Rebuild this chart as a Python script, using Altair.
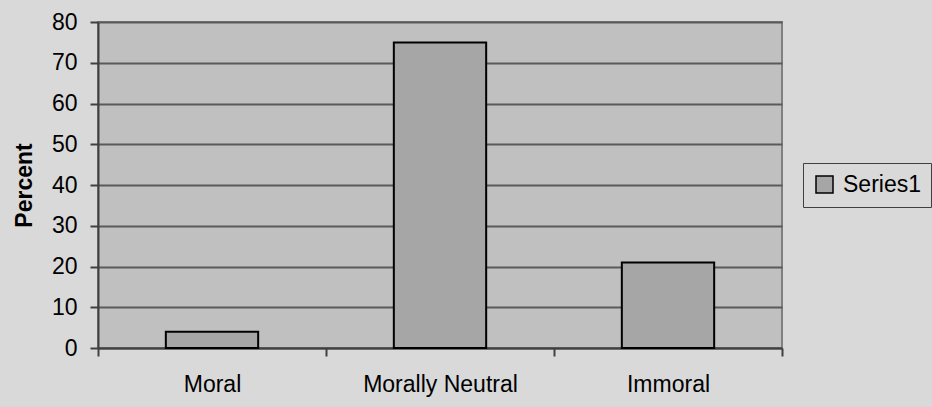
import altair as alt
import pandas as pd

# Share of responses per moral category
categories = ["Moral", "Morally Neutral", "Immoral"]
percents = [4, 75, 21]
series_names = ["Series1", "Series1", "Series1"]

y_ticks = [0, 10, 20, 30, 40, 50, 60, 70, 80]

df = pd.DataFrame({"category": categories, "percent": percents, "series": series_names})

FONT = "Liberation Sans"

bars = alt.Chart(df).mark_bar(
    stroke="black",
    strokeWidth=2,
    width=alt.RelativeBandSize(0.405),
).encode(
    x=alt.X(
        "category:N",
        sort=categories,
        title=None,
        scale=alt.Scale(paddingInner=0, paddingOuter=0),
        axis=alt.Axis(
            labelAngle=0,
            labelFontSize=23,
            labelFont=FONT,
            labelColor="black",
            labelPadding=17,
            tickBand="extent",
            tickSize=8,
            tickColor="#404040",
            tickWidth=2,
            domainColor="#404040",
            domainWidth=2,
            grid=False,
        ),
    ),
    y=alt.Y(
        "percent:Q",
        title="Percent",
        scale=alt.Scale(domain=[0, 80], nice=False),
        axis=alt.Axis(
            values=y_ticks,
            labelFontSize=23,
            labelFont=FONT,
            labelColor="black",
            labelPadding=13,
            tickSize=8,
            tickColor="#404040",
            tickWidth=2,
            domainColor="#404040",
            domainWidth=2,
            grid=True,
            gridColor="#5a5a5a",
            gridWidth=2,
            titleFont=FONT,
            titleFontSize=23,
            titleFontWeight="bold",
            titleColor="black",
            titleAngle=270,
            titleAlign="center",
            titleBaseline="alphabetic",
            titleX=-67,
            titleY=163,
        ),
    ),
    color=alt.Color(
        "series:N",
        scale=alt.Scale(range=["#A6A6A6"]),
        legend=alt.Legend(
            title=None,
            orient="none",
            legendX=705,
            legendY=141,
            symbolType="square",
            symbolSize=289,
            symbolStrokeColor="black",
            symbolStrokeWidth=1.5,
            symbolFillColor="#A6A6A6",
            symbolOpacity=1,
            labelFont=FONT,
            labelFontSize=23,
            labelColor="black",
            labelOffset=7,
            padding=10,
            strokeColor="#404040",
            fillColor="#D9D9D9",
        ),
    ),
)

chart = bars.properties(
    width=684,
    height=326,
    background="#D9D9D9",
    padding={"left": 98, "top": 22, "right": 150, "bottom": 59},
    autosize=alt.AutoSizeParams(type="none"),
).configure_view(
    fill="#C0C0C0",
    stroke="#808080",
    strokeWidth=2,
)

chart.save("out.html", embed_options={"renderer": "svg", "actions": False})
